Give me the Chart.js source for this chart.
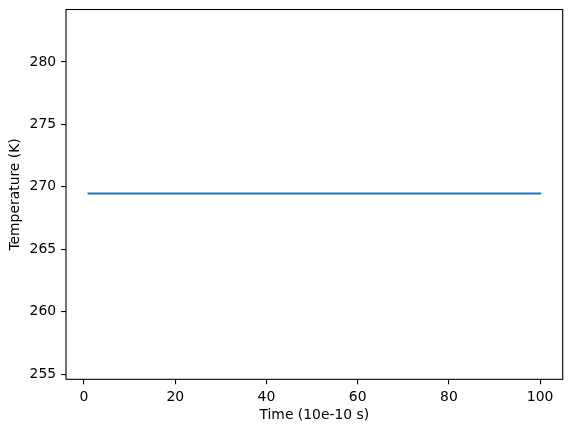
<!DOCTYPE html>
<html>
<head>
    <meta charset='utf-8'>
    <title>Temperature</title>
    <script src="https://cdn.jsdelivr.net/npm/chart.js@4.4.0/dist/chart.umd.min.js"></script>
    <style>
        body { margin: 0; background: #fff; }
        canvas { display: block; }
    </style>
</head>
<body>
    <canvas id="canvasT" width="571" height="432"></canvas>
</body>
<script>

    // data: flat line from t=1 to t=100
    var tiempo = [1, 100]
    var temperatura = [269.46, 269.46]
    var xTicks = [0, 20, 40, 60, 80, 100]
    var yTicks = [255, 260, 265, 270, 275, 280]

    var fuente = { family: 'DejaVu Sans', size: 13.9 }

    // matplotlib-like box round the axes
    var caja = {
        id: 'caja',
        afterDatasetsDraw: function (chart) {
            var a = chart.chartArea
            var ctx = chart.ctx
            ctx.save()
            ctx.strokeStyle = '#000'
            ctx.lineWidth = 1.1
            ctx.strokeRect(a.left, a.top, a.right - a.left, a.bottom - a.top)
            ctx.restore()
        }
    }

    function CrearGrafico() {
        var ctx = document.getElementById('canvasT').getContext('2d');
        var puntos = tiempo.map(function (t, i) { return { x: t, y: temperatura[i] } })
        new Chart(ctx, {
            type: 'line',
            data: {
                datasets: [{
                    data: puntos,
                    borderColor: '#1f77b4',
                    borderWidth: 2.1,
                    borderCapStyle: 'square',
                    pointRadius: 0,
                    tension: 0,
                    fill: false
                }]
            },
            options: {
                responsive: false,
                devicePixelRatio: 1,
                animation: false,
                layout: { padding: { left: 0, top: 9.5, right: 8.3, bottom: 0 } },
                plugins: { legend: { display: false }, tooltip: { enabled: false } },
                scales: {
                    x: {
                        type: 'linear',
                        min: -3.95,
                        max: 104.95,
                        afterBuildTicks: function (s) { s.ticks = xTicks.map(function (v) { return { value: v } }) },
                        afterFit: function (s) { s.height = 52.7; s.paddingLeft = 0; s.paddingRight = 0 },
                        border: { display: false },
                        grid: { drawOnChartArea: false, color: '#000', tickLength: 4.9, lineWidth: 1.1 },
                        ticks: { color: '#000', font: fuente, padding: 4.5, maxRotation: 0 },
                        title: { display: true, text: 'Time (10e-10 s)', color: '#000', font: fuente, padding: { top: 0, bottom: 8.7 } }
                    },
                    y: {
                        min: 254.58,
                        max: 284.2,
                        afterBuildTicks: function (s) { s.ticks = yTicks.map(function (v) { return { value: v } }) },
                        afterFit: function (s) { s.width = 66; s.paddingTop = 0; s.paddingBottom = 0 },
                        border: { display: false },
                        grid: { drawOnChartArea: false, color: '#000', tickLength: 4.9, lineWidth: 1.1 },
                        ticks: { color: '#000', font: fuente, padding: 5 },
                        title: { display: true, text: 'Temperature (K)', color: '#000', font: fuente, padding: { top: 6.7, bottom: 0 } }
                    }
                }
            },
            plugins: [caja]
        })
    };

    CrearGrafico();

</script>
</html>
